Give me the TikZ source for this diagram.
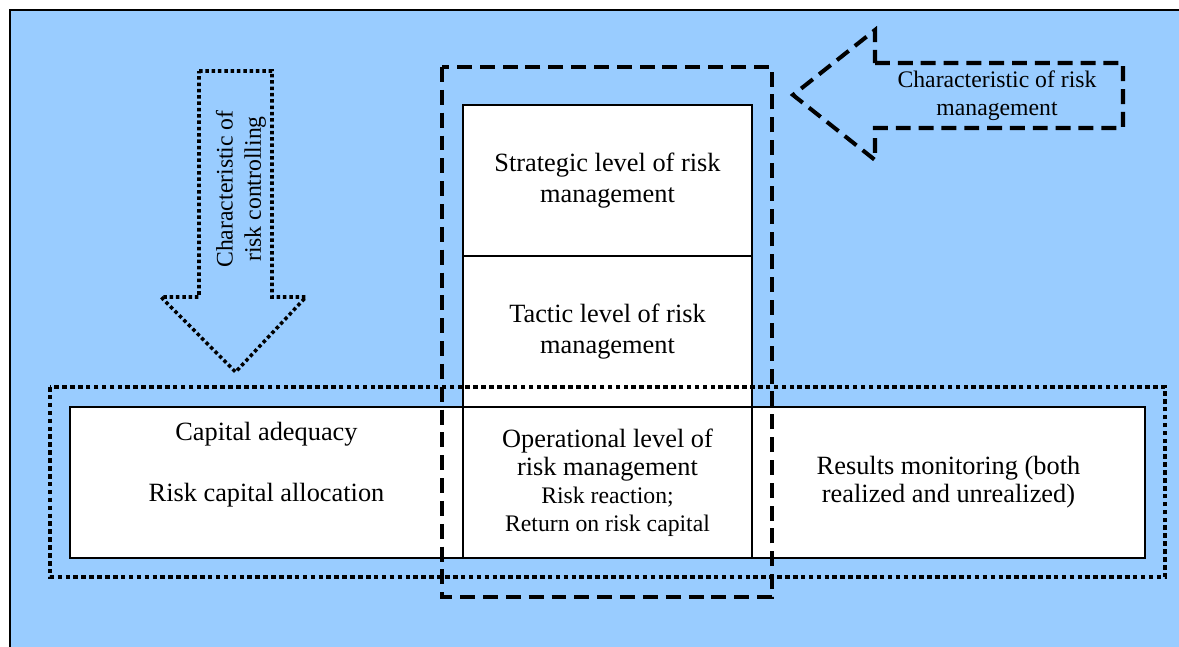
\documentclass[tikz,border=0pt]{standalone}
\usepackage{fontspec}
\setmainfont{Liberation Serif}
\definecolor{skyblue}{RGB}{153,204,255}
\tikzset{
  level/.style={draw, line width=0.8pt, fill=white, align=center, inner sep=0pt,
    font=\fontsize{15}{17.6}\selectfont, minimum width=5.78cm, minimum height=3.02cm},
  sidebox/.style={level, minimum width=7.86cm},
  smalltxt/.style={align=center, inner sep=0pt, font=\fontsize{13.5}{16}\selectfont},
  dotbig/.style={line width=2.6pt, dash pattern=on 2.6pt off 1.9pt},
  dashbig/.style={line width=2.3pt, dash pattern=on 8.5pt off 4.5pt},
  dotthin/.style={line width=2pt, dash pattern=on 2pt off 1.6pt}
}
\begin{document}
\begin{tikzpicture}[x=0.02cm, y=-0.02cm]
\useasboundingbox (0,0) rectangle (1179,646);
\clip (0,0) rectangle (1179,646);
% background
\draw[fill=skyblue, line width=0.8pt] (10,10) rectangle (1200,670);
% levels of risk management
\node[level] (strat) at (607.5,180.5) {Strategic level of risk\\management};
\node[level] (tact) at (607.5,331.5) {Tactic level of risk\\management};
\node[level, font=\fontsize{15}{15.9}\selectfont] (oper) at (607.5,482.5)
  {Operational level of\\risk management\\{\fontsize{13.5}{15.9}\selectfont Risk reaction;}\\{\fontsize{13.5}{15.9}\selectfont Return on risk capital}};
\node[sidebox] (capbox) at (266.5,482.5) {};
\node[level, sidebox, font=\fontsize{15}{15.9}\selectfont] (results) at (948.5,482.5)
  {Results monitoring (both\\realized and unrealized)};
\node[align=center, inner sep=0pt, font=\fontsize{15}{17.3}\selectfont] (capadq) at (266.5,465)
  {Capital adequacy\\[17.3pt]Risk capital allocation};
% frames
\draw[dotbig] (50,387) rectangle (1165,577);
\draw[dashbig] (442,67) rectangle (772,597);
% risk controlling arrow
\draw[dotthin] (199,71) -- (272,71) -- (272,297) -- (306,297) -- (235.5,372)
  -- (161,297) -- (199,297) -- cycle;
\node[smalltxt, rotate=90] (ctrltxt) at (241,189) {Characteristic of\\risk controlling};
% risk management arrow
\draw[dashbig] (875,63) -- (1123,63) -- (1123,128) -- (875,128) -- (875,160)
  -- (793,95) -- (875,30) -- cycle;
\node[smalltxt] (mgmttxt) at (997,96) {Characteristic of risk\\management};
\end{tikzpicture}
\end{document}
